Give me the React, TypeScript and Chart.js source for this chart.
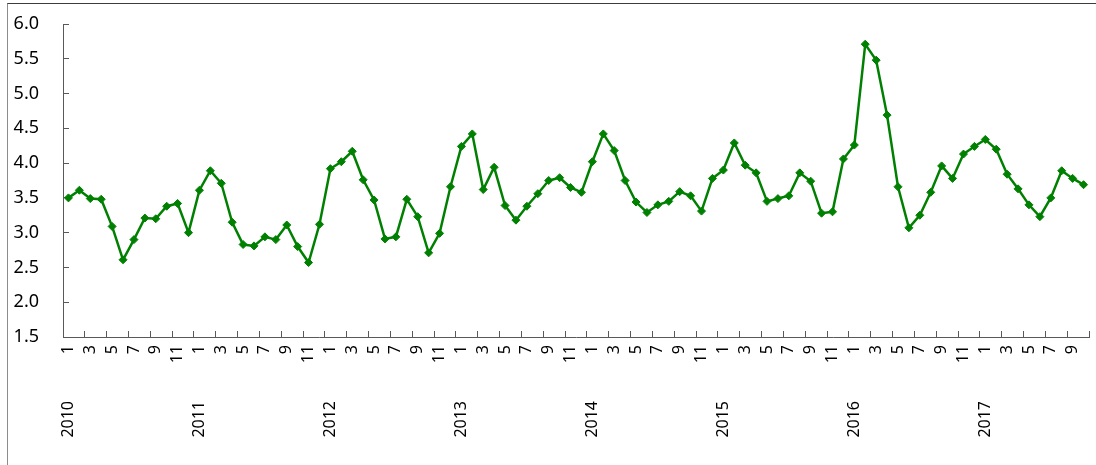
import React, { useEffect, useRef } from 'react';
import { Chart, registerables } from 'chart.js';

Chart.register(...registerables);

// Years and monthly values
const years = [2010, 2011, 2012, 2013, 2014, 2015, 2016, 2017];
const v2010 = [3.50, 3.61, 3.49, 3.48, 3.09, 2.61, 2.90, 3.21, 3.20, 3.38, 3.42, 3.00];
const v2011 = [3.61, 3.89, 3.71, 3.15, 2.83, 2.81, 2.94, 2.90, 3.11, 2.80, 2.57, 3.12];
const v2012 = [3.92, 4.02, 4.17, 3.76, 3.47, 2.91, 2.94, 3.48, 3.23, 2.71, 2.99, 3.66];
const v2013 = [4.24, 4.42, 3.62, 3.94, 3.39, 3.18, 3.38, 3.56, 3.75, 3.79, 3.65, 3.58];
const v2014 = [4.02, 4.42, 4.18, 3.75, 3.44, 3.29, 3.40, 3.45, 3.59, 3.53, 3.31, 3.78];
const v2015 = [3.90, 4.29, 3.97, 3.86, 3.45, 3.49, 3.53, 3.86, 3.74, 3.28, 3.30, 4.06];
const v2016 = [4.26, 5.71, 5.48, 4.69, 3.66, 3.07, 3.25, 3.58, 3.96, 3.78, 4.13, 4.24];
const v2017 = [4.34, 4.20, 3.84, 3.63, 3.40, 3.23, 3.50, 3.89, 3.78, 3.69];
const seriesByYear = [v2010, v2011, v2012, v2013, v2014, v2015, v2016, v2017];

// Y axis range
const yMin = 1.5;
const yMax = 6.0;
const yStep = 0.5;

const labels: string[] = [];
const monthOf: number[] = [];
const yearOf: number[] = [];
const values: number[] = [];
seriesByYear.forEach((arr, yi) => {
  arr.forEach((v, mi) => {
    labels.push(`${years[yi]}-${mi + 1}`);
    monthOf.push(mi + 1);
    yearOf.push(years[yi]);
    values.push(v);
  });
});

const GREEN = '#008000';
const AXIS = '#595959';
const XFONT = "'Liberation Sans Narrow', 'Noto Sans', sans-serif";

const zeroPad = (s: any) => {
  s.paddingLeft = 0;
  s.paddingRight = 0;
  s.paddingTop = 0;
  s.paddingBottom = 0;
};

export default function App() {
  const ref = useRef<HTMLCanvasElement | null>(null);

  useEffect(() => {
    if (!ref.current) return;
    Chart.defaults.font.family = "'Noto Sans', sans-serif";
    const chart = new Chart(ref.current, {
      type: 'line',
      data: {
        labels,
        datasets: [
          {
            data: values,
            borderColor: GREEN,
            backgroundColor: GREEN,
            borderWidth: 2.5,
            pointStyle: 'rectRot',
            pointRadius: 4,
            pointBorderWidth: 1,
            pointBackgroundColor: GREEN,
            pointBorderColor: GREEN,
            tension: 0,
            fill: false,
          },
        ],
      },
      options: {
        responsive: false,
        animation: false,
        devicePixelRatio: 1,
        layout: { padding: { top: 24, right: 7, left: 0, bottom: 0 } },
        plugins: { legend: { display: false }, tooltip: { enabled: false }, title: { display: false } },
        scales: {
          x: {
            type: 'category',
            position: 'bottom',
            offset: true,
            grid: {
              display: true,
              offset: true,
              drawOnChartArea: false,
              drawTicks: true,
              tickLength: -6,
              lineWidth: 1,
              color: (ctx: any) =>
                ctx.index === undefined || ctx.index % 2 === 0 ? AXIS : 'rgba(0,0,0,0)',
            },
            border: { display: true, color: AXIS, width: 1 },
            ticks: {
              autoSkip: false,
              maxRotation: 90,
              minRotation: 90,
              padding: 14,
              color: '#000',
              font: { size: 16, family: XFONT },
              callback: (_v: any, i: number) => (monthOf[i] % 2 === 1 ? String(monthOf[i]) : ''),
            },
            afterFit: (s: any) => {
              s.height = 54;
              zeroPad(s);
            },
          },
          x2: {
            type: 'category',
            position: 'bottom',
            offset: true,
            grid: { display: false },
            border: { display: false },
            ticks: {
              autoSkip: false,
              maxRotation: 90,
              minRotation: 90,
              padding: 2,
              color: '#000',
              font: { size: 16, family: XFONT },
              callback: (_v: any, i: number) => (monthOf[i] === 1 ? String(yearOf[i]) : ''),
            },
            afterFit: (s: any) => {
              s.height = 74;
              zeroPad(s);
            },
          },
          y: {
            type: 'linear',
            position: 'left',
            min: yMin,
            max: yMax,
            grid: {
              display: true,
              drawOnChartArea: false,
              drawTicks: true,
              tickLength: -6,
              color: AXIS,
              lineWidth: 1,
            },
            border: { display: true, color: AXIS, width: 1 },
            ticks: {
              stepSize: yStep,
              padding: 30,
              color: '#000',
              font: { size: 18 },
              callback: (v: any) => Number(v).toFixed(1),
            },
            afterFit: (s: any) => {
              s.width = 63;
              zeroPad(s);
            },
          },
        },
      } as any,
    });
    return () => chart.destroy();
  }, []);

  return (
    <div
      style={{
        position: 'fixed',
        left: 0,
        top: 0,
        width: 1096,
        height: 465,
        overflow: 'hidden',
        background: '#fff',
      }}
    >
      <div
        style={{
          position: 'absolute',
          left: 7,
          top: 3,
          width: 1300,
          height: 700,
          borderLeft: '1px solid #8c8c8c',
          borderTop: '1px solid #3c3c3c',
        }}
      />
      <canvas
        ref={ref}
        width={1096}
        height={465}
        style={{ position: 'absolute', left: 0, top: 0, width: 1096, height: 465 }}
      />
    </div>
  );
}
